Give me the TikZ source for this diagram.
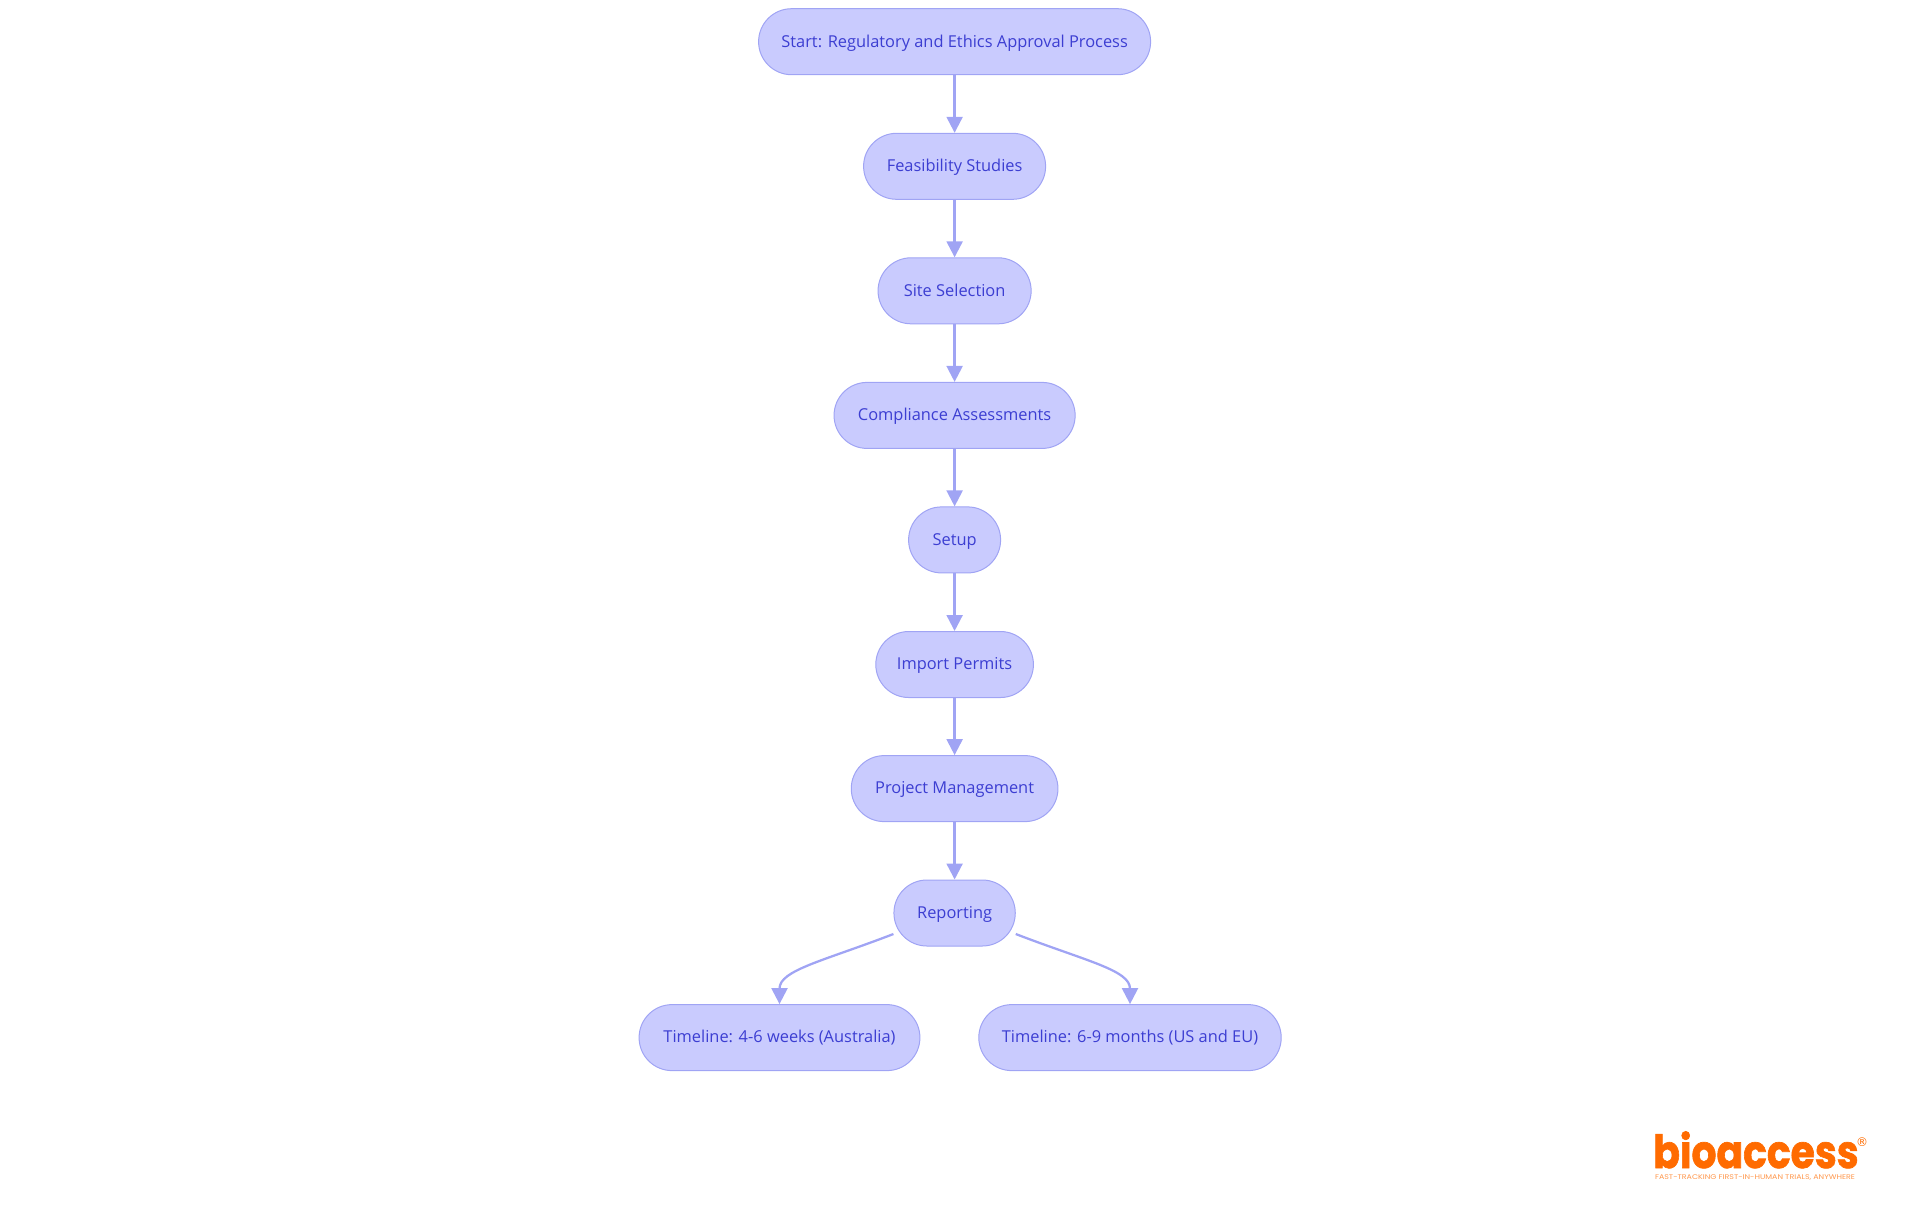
\documentclass[tikz,border=0pt]{standalone}
\usepackage{fontspec}
\setmainfont{Open Sans}
\newfontfamily\logofont[BoldFeatures={FakeBold=1.5}]{Poppins}
\newfontfamily\regfont{DejaVu Sans}
\usetikzlibrary{arrows.meta,calc}
\definecolor{nodefill}{HTML}{C9CBFE}
\definecolor{nodeline}{HTML}{A0A4F4}
\definecolor{nodetext}{HTML}{3C3ED2}
\definecolor{logoorange}{HTML}{FF6B00}
\tikzset{
  flownode/.style={draw=nodeline,fill=nodefill,line width=0.75pt,rounded corners=24.7pt,
    minimum height=49.5pt,inner sep=0pt,text=nodetext,text height=10pt,text depth=2pt,
    font=\fontsize{12.3}{15}\selectfont},
  flowedge/.style={draw=nodeline,line width=1.7pt,-{Triangle[length=12pt,width=12pt]}}
}
\begin{document}
\begin{tikzpicture}[x=0.75pt,y=-0.75pt]
\useasboundingbox (0,0) rectangle (1920,1215);
\node[flownode,minimum width=294pt] (start) at (954.6,41.7) {Start: Regulatory and Ethics Approval Process};
\node[flownode,minimum width=136.5pt] (feas) at (954.6,166.3) {Feasibility Studies};
\node[flownode,minimum width=114.8pt] (site) at (954.6,290.8) {Site Selection};
\node[flownode,minimum width=180.8pt] (comp) at (954.6,415.4) {Compliance Assessments};
\node[flownode,minimum width=69pt] (setup) at (954.6,539.9) {Setup};
\node[flownode,minimum width=118.2pt] (imp) at (954.6,664.5) {Import Permits};
\node[flownode,minimum width=155pt] (proj) at (954.6,788.6) {Project Management};
\node[flownode,minimum width=91pt] (rep) at (954.6,913) {Reporting};
\node[flownode,minimum width=210.6pt] (ta) at (779.5,1037.6) {Timeline: 4-6 weeks (Australia)};
\node[flownode,minimum width=226.8pt] (tb) at (1130,1037.6) {Timeline: 6-9 months (US and EU)};
\draw[flowedge] (start) -- (feas);
\draw[flowedge] (feas) -- (site);
\draw[flowedge] (site) -- (comp);
\draw[flowedge] (comp) -- (setup);
\draw[flowedge] (setup) -- (imp);
\draw[flowedge] (imp) -- (proj);
\draw[flowedge] (proj) -- (rep);
\coordinate (repl) at ($(rep.west)+(0,21)$);
\coordinate (repr) at ($(rep.east)+(0,21)$);
\draw[flowedge] (repl) .. controls ($(repl)+(-70,27)$) and ($(ta.north)+(0,-34)$) .. (ta.north);
\draw[flowedge] (repr) .. controls ($(repr)+(70,27)$) and ($(tb.north)+(0,-34)$) .. (tb.north);
\node[anchor=base west,inner sep=0pt,text=logoorange] (logo) at (1653,1168)
  {\resizebox{154pt}{27.5pt}{\logofont\bfseries bioaccess}};
\node[anchor=center,inner sep=0pt,text=logoorange,font=\regfont\fontsize{9}{9}\selectfont] (reg) at (1862,1142) {®};
\node[anchor=center,inner sep=0pt,text=logoorange!70] (tag) at (1755,1178)
  {\resizebox{150pt}{3.6pt}{\logofont FAST-TRACKING FIRST-IN-HUMAN TRIALS, ANYWHERE}};
\end{tikzpicture}
\end{document}
